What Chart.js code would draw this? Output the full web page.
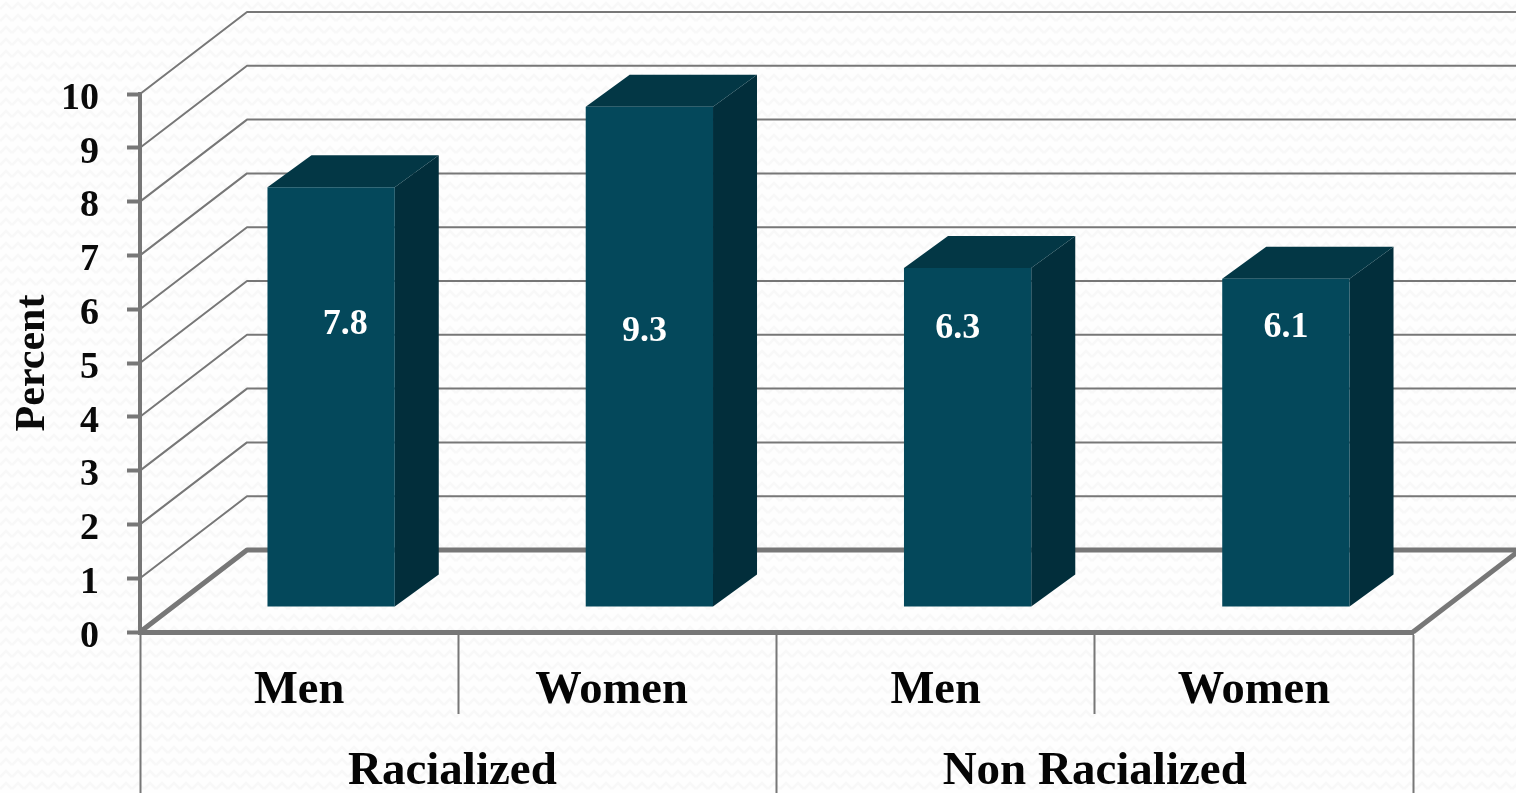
<!DOCTYPE html>
<html>
<head>
<meta charset="utf-8">
<title>Percent by group</title>
<style>
    html, body {
        margin: 0;
        padding: 0;
        background-color: #fefefe;
        background-image: url("data:image/svg+xml,%3Csvg xmlns='http://www.w3.org/2000/svg' width='12' height='12'%3E%3Cpath d='M0 9 L6 3 L12 9' fill='none' stroke='%23f8f8f8' stroke-width='2.5'/%3E%3C/svg%3E");
    }
    canvas { display: block; }
</style>
<script src="https://cdn.jsdelivr.net/npm/chart.js@4"></script>
</head>
<body>
<canvas id="canvas" width="1516" height="793"></canvas>
<script>
var groups = ['Men', 'Women ', 'Men', 'Women'];
var parents = ['Racialized ', 'Non Racialized'];
var values = [7.8, 9.3, 6.3, 6.1];
var valueLabels = ['7.8', '9.3', '6.3', '6.1'];

var lineColor = '#777777';
var frontColor = '#04485b';
var sideColor = '#022e3b';
var topColor = '#033745';
var serif = '"Liberation Serif", serif';

// depth of the box: back wall, plane of the bar fronts, length of a bar's side
var wall = { dx: 107, dy: -82 };
var barPlane = { dx: 32, dy: -25 };
var barDepth = { dx: 44, dy: -32 };

// value labels sit in the upper part of the bars, not at their centres
var labelLevel = 5.1;
var labelNudge = [[14, -8], [-5, -1], [-10, -4], [0, -5]];

function polygon(ctx, points, color) {
    ctx.fillStyle = color;
    ctx.beginPath();
    points.forEach(function (p, i) {
        if (i === 0) ctx.moveTo(p[0], p[1]);
        else ctx.lineTo(p[0], p[1]);
    });
    ctx.closePath();
    ctx.fill();
}

var box3d = {
    id: 'box3d',
    // wall grid lines, running back from the axis and then across to the edge
    beforeDatasetsDraw: function (chart) {
        var ctx = chart.ctx;
        var yScale = chart.scales.y;
        var area = chart.chartArea;
        ctx.save();
        ctx.strokeStyle = lineColor;
        ctx.lineJoin = 'round';
        yScale.ticks.forEach(function (tick) {
            var y = yScale.getPixelForValue(tick.value);
            ctx.lineWidth = tick.value === 0 ? 5 : 2;
            ctx.beginPath();
            ctx.moveTo(area.left, y);
            ctx.lineTo(area.left + wall.dx, y + wall.dy);
            ctx.lineTo(chart.width, y + wall.dy);
            ctx.stroke();
        });
        // floor edge on the right
        var floorY = yScale.getPixelForValue(0);
        ctx.lineWidth = 5;
        ctx.beginPath();
        ctx.moveTo(area.right, floorY);
        ctx.lineTo(area.right + wall.dx, floorY + wall.dy);
        ctx.stroke();
        ctx.restore();
    },
    // side and top faces, then shift so the library draws the fronts in their plane
    beforeDatasetDraw: function (chart, args) {
        var ctx = chart.ctx;
        ctx.save();
        ctx.translate(barPlane.dx, barPlane.dy);
        args.meta.data.forEach(function (bar) {
            var left = bar.x - bar.width / 2;
            var right = bar.x + bar.width / 2;
            polygon(ctx, [[right, bar.y], [right + barDepth.dx, bar.y + barDepth.dy],
                [right + barDepth.dx, bar.base + barDepth.dy], [right, bar.base]], sideColor);
            polygon(ctx, [[left, bar.y], [left + barDepth.dx, bar.y + barDepth.dy],
                [right + barDepth.dx, bar.y + barDepth.dy], [right, bar.y]], topColor);
        });
    },
    afterDatasetDraw: function (chart, args) {
        var ctx = chart.ctx;
        var yScale = chart.scales.y;
        ctx.fillStyle = '#ffffff';
        ctx.font = 'bold 36px ' + serif;
        ctx.textAlign = 'center';
        ctx.textBaseline = 'middle';
        args.meta.data.forEach(function (bar, i) {
            ctx.fillText(valueLabels[i], bar.x + labelNudge[i][0],
                yScale.getPixelForValue(labelLevel) + labelNudge[i][1]);
        });
        ctx.restore();
    }
};

var config = {
    type: 'bar',
    data: {
        labels: groups,
        datasets: [{
            data: values,
            backgroundColor: frontColor,
            barPercentage: 0.4,
            categoryPercentage: 1,
            clip: false
        }]
    },
    options: {
        responsive: false,
        animation: false,
        events: [],
        layout: { padding: { top: 94, right: 103 } },
        plugins: {
            legend: { display: false },
            title: { display: false },
            tooltip: { enabled: false }
        },
        scales: {
            y: {
                min: 0,
                max: 10,
                afterFit: function (scale) { scale.width = 140; },
                ticks: {
                    stepSize: 1,
                    color: '#0a0a0a',
                    padding: 28,
                    labelOffset: 5,
                    font: { family: serif, size: 38, weight: 'bold' }
                },
                grid: {
                    drawOnChartArea: false,
                    tickLength: 13,
                    tickWidth: 4,
                    tickColor: lineColor
                },
                border: { color: lineColor, width: 4 },
                title: {
                    display: true,
                    text: 'Percent',
                    color: '#0a0a0a',
                    padding: { top: 8, bottom: 0 },
                    font: { family: serif, size: 42, weight: 'bold' }
                }
            },
            x: {
                afterFit: function (scale) { scale.height = 82; },
                ticks: {
                    color: '#050505',
                    padding: -51,
                    autoSkip: false,
                    maxRotation: 0,
                    minRotation: 0,
                    font: { family: serif, size: 46.5, weight: 'bold' }
                },
                grid: {
                    offset: true,
                    drawOnChartArea: false,
                    tickLength: 82,
                    tickWidth: 2,
                    tickColor: lineColor
                },
                border: { color: lineColor, width: 5 }
            },
            x2: {
                type: 'category',
                position: 'bottom',
                labels: parents,
                afterFit: function (scale) { scale.height = 79; },
                ticks: {
                    color: '#050505',
                    padding: -49,
                    autoSkip: false,
                    maxRotation: 0,
                    minRotation: 0,
                    font: { family: serif, size: 47, weight: 'bold' }
                },
                grid: {
                    offset: true,
                    drawOnChartArea: false,
                    tickLength: 79,
                    tickWidth: 2,
                    tickColor: lineColor
                },
                border: { display: false }
            }
        }
    },
    plugins: [box3d]
};

window.onload = function () {
    var ctx = document.getElementById('canvas').getContext('2d');
    new Chart(ctx, config);
};
</script>
</body>
</html>
